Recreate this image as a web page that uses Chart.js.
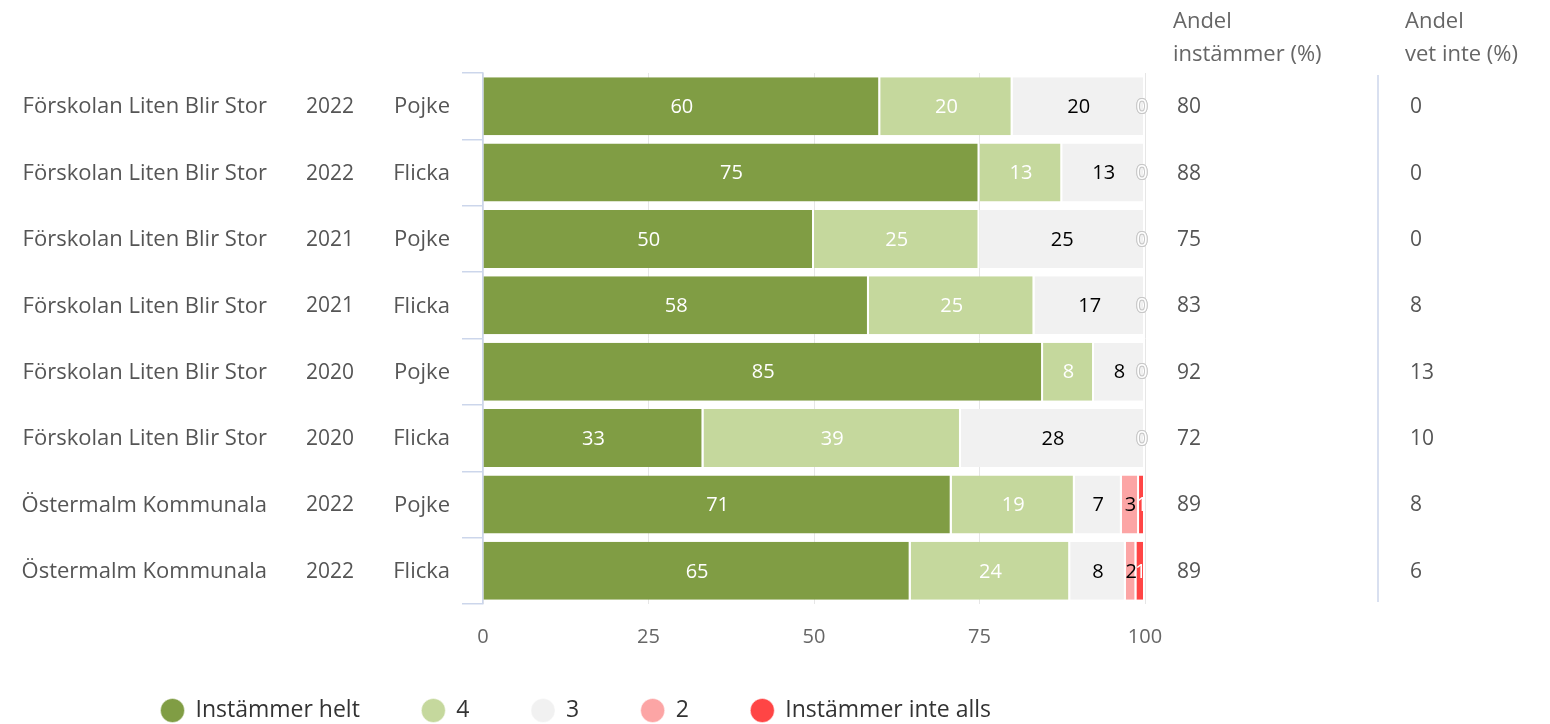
<!DOCTYPE html>
<html>
<head>
<meta charset="utf-8">
<script src="https://cdn.jsdelivr.net/npm/chart.js@4/dist/chart.umd.min.js"></script>
<style>
  html, body { margin: 0; padding: 0; background: #fff; }
  #wrap { width: 1550px; height: 724px; }
</style>
</head>
<body>
<div id="wrap"><canvas id="chart"></canvas></div>
<script>
// rows, top to bottom
const schools = ['Förskolan Liten Blir Stor', 'Förskolan Liten Blir Stor', 'Förskolan Liten Blir Stor',
  'Förskolan Liten Blir Stor', 'Förskolan Liten Blir Stor', 'Förskolan Liten Blir Stor',
  'Östermalm Kommunala', 'Östermalm Kommunala'];
const years = ['2022', '2022', '2021', '2021', '2020', '2020', '2022', '2022'];
const genders = ['Pojke', 'Flicka', 'Pojke', 'Flicka', 'Pojke', 'Flicka', 'Pojke', 'Flicka'];

// answer shares (%)
const instammerHelt = [60, 75, 50, 58.3, 84.6, 33.3, 70.8, 64.6];
const svar4 = [20, 12.5, 25, 25, 7.7, 38.9, 18.6, 24.1];
const svar3 = [20, 12.5, 25, 16.7, 7.7, 27.8, 7.1, 8.4];
const svar2 = [0, 0, 0, 0, 0, 0, 2.6, 1.6];
const instammerInteAlls = [0, 0, 0, 0, 0, 0, 0.9, 1.3];

const andelInstammer = [80, 88, 75, 83, 92, 72, 89, 89];
const andelVetInte = [0, 0, 0, 8, 13, 10, 8, 6];

const xTicks = [0, 25, 50, 75, 100];

const FONT = '"Open Sans", Lato, sans-serif';
Chart.defaults.font.family = FONT;
Chart.defaults.font.size = 21;

const seriesColors = ['#809d44', '#c5d89d', '#f1f1f1', '#fca5a5', '#ff4545'];
const labelColors = ['#fff', '#fff', '#000', '#000', '#fff'];

const rowLabels = schools.map((s, i) => s + ' ' + years[i] + ' ' + genders[i]);

const LEGEND_PAD = 62;

function makeSet(label, data, i) {
  return {
    label: label,
    data: data,
    backgroundColor: seriesColors[i],
    borderColor: '#fff',
    borderWidth: { left: 0, right: 2, top: 0, bottom: 0 },
    borderSkipped: false,
    categoryPercentage: 1,
    barPercentage: 0.875
  };
}

const sidePlugin = {
  id: 'sideText',
  afterLayout(chart) {
    // put the legend row where it sits in the original
    const lg = chart.legend;
    lg.left = 161 - LEGEND_PAD;
    lg.top = 711 - LEGEND_PAD - 12;
    lg.bottom = 724;
    lg.height = lg.bottom - lg.top;
    lg.width = lg.right - lg.left;
  },
  afterDatasetsDraw(chart) {
    const ctx = chart.ctx;
    ctx.save();
    ctx.font = '20px ' + FONT;
    ctx.textAlign = 'center';
    ctx.textBaseline = 'middle';
    chart.data.datasets.forEach((ds, i) => {
      chart.getDatasetMeta(i).data.forEach((bar, j) => {
        const v = ds.data[j];
        const x = (bar.x + bar.base) / 2 - (v === 0 ? 3 : 0);
        const txt = String(Math.round(v));
        if (v === 0) {
          ctx.lineWidth = 2;
          ctx.strokeStyle = '#c8c8c8';
          ctx.strokeText(txt, x, bar.y + 1);
          ctx.fillStyle = '#fff';
        } else {
          ctx.fillStyle = labelColors[i];
        }
        ctx.fillText(txt, x, bar.y + 1);
      });
    });
    ctx.restore();
  },
  afterDraw(chart) {
    const ctx = chart.ctx;
    const y = chart.scales.y;
    ctx.save();
    ctx.textBaseline = 'middle';
    ctx.fillStyle = '#555';
    rowLabels.forEach((_, i) => {
      const py = y.getPixelForValue(i) + 1;
      ctx.textAlign = 'right';
      ctx.font = '22px ' + FONT;
      ctx.fillText(schools[i], 267, py);
      ctx.fillText(genders[i], 450, py);
      ctx.font = '21px ' + FONT;
      ctx.fillText(years[i], 354, py);
      ctx.textAlign = 'left';
      ctx.fillText(String(andelInstammer[i]), 1177, py);
      ctx.fillText(String(andelVetInte[i]), 1410, py);
    });
    // column headers
    ctx.font = '22px ' + FONT;
    ctx.fillStyle = '#666';
    ctx.textAlign = 'left';
    ctx.fillText('Andel', 1173, 22);
    ctx.fillText('instämmer (%)', 1173, 55);
    ctx.fillText('Andel', 1405, 22);
    ctx.fillText('vet inte (%)', 1405, 55);
    // divider between the two columns
    ctx.strokeStyle = '#ccd6eb';
    ctx.lineWidth = 1.5;
    ctx.beginPath();
    ctx.moveTo(1378, chart.chartArea.top + 2);
    ctx.lineTo(1378, chart.chartArea.bottom - 2);
    ctx.stroke();
    ctx.restore();
  }
};

new Chart(document.getElementById('chart'), {
  type: 'bar',
  data: {
    labels: rowLabels,
    datasets: [
      makeSet('Instämmer helt', instammerHelt, 0),
      makeSet('4', svar4, 1),
      makeSet('3', svar3, 2),
      makeSet('2', svar2, 3),
      makeSet('Instämmer inte alls', instammerInteAlls, 4)
    ]
  },
  options: {
    indexAxis: 'y',
    responsive: true,
    maintainAspectRatio: false,
    animation: false,
    layout: { padding: { top: 73, right: 405, left: 0, bottom: 0 } },
    scales: {
      x: {
        stacked: true,
        min: 0,
        max: 100,
        afterBuildTicks(s) { s.ticks = xTicks.map(v => ({ value: v })); },
        afterFit(s) { s.height = 724 - 604 - s.chart.legend.height; },
        grid: { color: '#e6e6e6', drawTicks: false },
        border: { display: false },
        ticks: { color: '#666', padding: 21, font: { size: 20 } }
      },
      y: {
        stacked: true,
        afterFit(s) { s.width = 483; },
        grid: { offset: true, drawOnChartArea: false, tickLength: 21, color: '#ccd6eb', lineWidth: 1.5 },
        border: { color: '#ccd6eb', width: 1.5 },
        ticks: { display: false }
      }
    },
    plugins: {
      legend: {
        position: 'bottom',
        align: 'start',
        maxHeight: 40,
        labels: {
          usePointStyle: true,
          pointStyle: 'circle',
          boxWidth: 23,
          boxHeight: 17,
          padding: LEGEND_PAD,
          color: '#333',
          font: { size: 23 }
        }
      },
      tooltip: { enabled: false }
    }
  },
  plugins: [sidePlugin]
});
</script>
</body>
</html>
